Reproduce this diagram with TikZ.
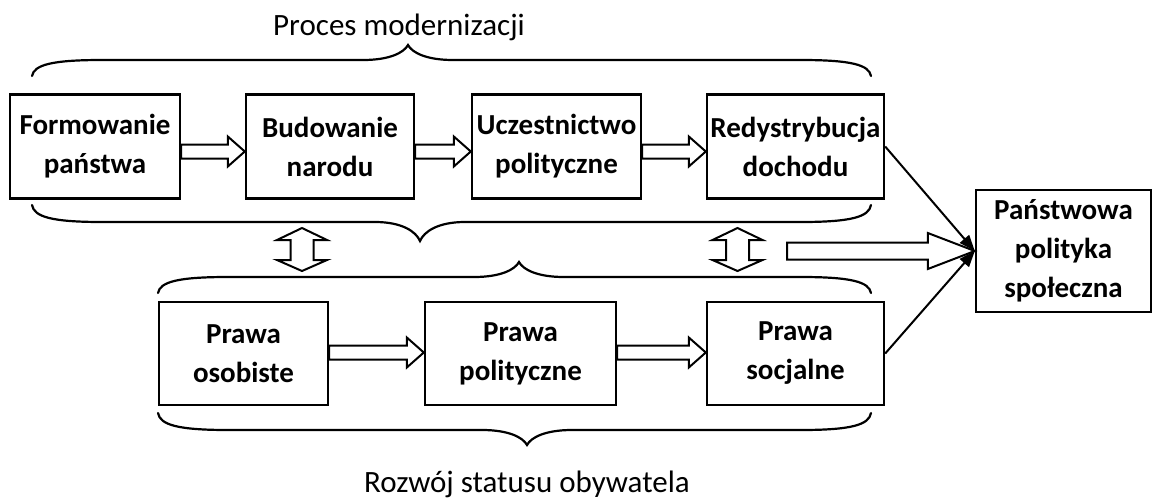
\documentclass[tikz,border=0pt]{standalone}
\usepackage{fontspec}
\setmainfont{Carlito}
\usetikzlibrary{arrows.meta,calc}

\tikzset{
    box/.style={
        rectangle, draw, line width=2.4pt, align=center, inner sep=0pt,
        font=\bfseries\fontsize{29}{39}\selectfont
    },
    fat/.style={draw, line width=2pt, fill=white, line join=miter},
    brace/.style={draw, line width=2.2pt, line cap=round},
    link/.style={line width=2pt, -{Triangle[length=16pt, width=12pt]}},
    caption/.style={font=\fontsize{31}{37}\selectfont, anchor=base, inner sep=0pt}
}

% hollow block arrow from the east side of #2 to the west side of #3
\newcommand{\fatarrow}[3][0pt]{%
    \draw[fat] let \p1=(#2.east), \p2=(#3.west) in
        (\x1,{\y1+(#1)+7pt}) -- ({\x2-17pt},{\y1+(#1)+7pt}) -- ({\x2-17pt},{\y1+(#1)+15pt})
        -- (\x2,{\y1+(#1)}) -- ({\x2-17pt},{\y1+(#1)-15pt}) -- ({\x2-17pt},{\y1+(#1)-7pt})
        -- (\x1,{\y1+(#1)-7pt}) -- cycle;}

% vertical double arrow centred at x = #1
\newcommand{\updown}[1]{%
    \draw[fat] ({#1-11.5},240) -- ({#1-25},240) -- (#1,228) -- ({#1+25},240) -- ({#1+11.5},240)
        -- ({#1+11.5},260) -- ({#1+25},260) -- (#1,271) -- ({#1-25},260) -- ({#1-11.5},260) -- cycle;}

% curly brace: ends #1,#2, tip at #3, end/flat/tip heights #4,#5,#6
\newcommand{\curly}[6]{%
    \draw[brace] (#1,#4) .. controls ({#1+2},{#5+0.3*(#4-#5)}) and ({#1+20},#5) .. ({#1+70},#5)
        -- ({#3-45},#5) .. controls ({#3-18},#5) and ({#3-4},{#5+0.5*(#6-#5)}) .. (#3,#6)
        .. controls ({#3+4},{#5+0.5*(#6-#5)}) and ({#3+18},#5) .. ({#3+45},#5)
        -- ({#2-70},#5) .. controls ({#2-20},#5) and ({#2-2},{#5+0.3*(#4-#5)}) .. (#2,#4);}

\begin{document}
\begin{tikzpicture}[x=1pt, y=-1pt]
\useasboundingbox (0,0) rectangle (1154,501);

% Modernisation row
\node[box, minimum width=170, minimum height=104] (formow) at (95,146.5) {Formowanie\\państwa};
\node[box, minimum width=168, minimum height=104] (budow) at (330,146.5) {Budowanie\\narodu};
\node[box, minimum width=169, minimum height=104] (uczest) at (556.5,146.5) {Uczestnictwo\\polityczne};
\node[box, minimum width=177, minimum height=104] (redystr) at (795.5,146.5) {Redystrybucja\\dochodu};

% Citizenship row
\node[box, minimum width=169, minimum height=103] (osob) at (243.5,353.5) {Prawa\\osobiste};
\node[box, minimum width=191, minimum height=103] (polit) at (520.5,353.5) {Prawa\\polityczne};
\node[box, minimum width=177, minimum height=103] (socj) at (795.5,353.5) {Prawa\\socjalne};

% Outcome
\node[box, minimum width=175, minimum height=122] (panstw) at (1063.5,251) {Państwowa\\polityka\\społeczna};

% Arrows inside the rows
\fatarrow[-5pt]{formow}{budow}
\fatarrow[-5pt]{budow}{uczest}
\fatarrow[-5pt]{uczest}{redystr}
\fatarrow[1pt]{osob}{polit}
\fatarrow[1pt]{polit}{socj}

% Braces and captions
\curly{32}{871}{408}{76}{60}{45}
\curly{32}{871}{420}{205}{222}{241}
\curly{158}{871}{519}{293}{277}{262}
\curly{158}{871}{527}{413}{430}{445}
\node[caption] (proc) at (399,35) {Proces modernizacji};
\node[caption] (rozw) at (527,492) {Rozwój statusu obywatela};

% Interaction between the two processes
\updown{302}
\updown{737.5}

% Into state social policy
\coordinate (start) at (787,251);
\draw[fat] let \p1=(start), \p2=(panstw.west) in
    (\x1,{\y2+8.5pt}) -- ({\x2-47pt},{\y2+8.5pt}) -- ({\x2-47pt},{\y2+18pt}) -- (\x2,\y2)
    -- ({\x2-47pt},{\y2-18pt}) -- ({\x2-47pt},{\y2-8.5pt}) -- (\x1,{\y2-8.5pt}) -- cycle;
\draw[link] (redystr.east) -- (panstw.west);
\draw[link] (socj.east) -- (panstw.west);

\end{tikzpicture}
\end{document}
